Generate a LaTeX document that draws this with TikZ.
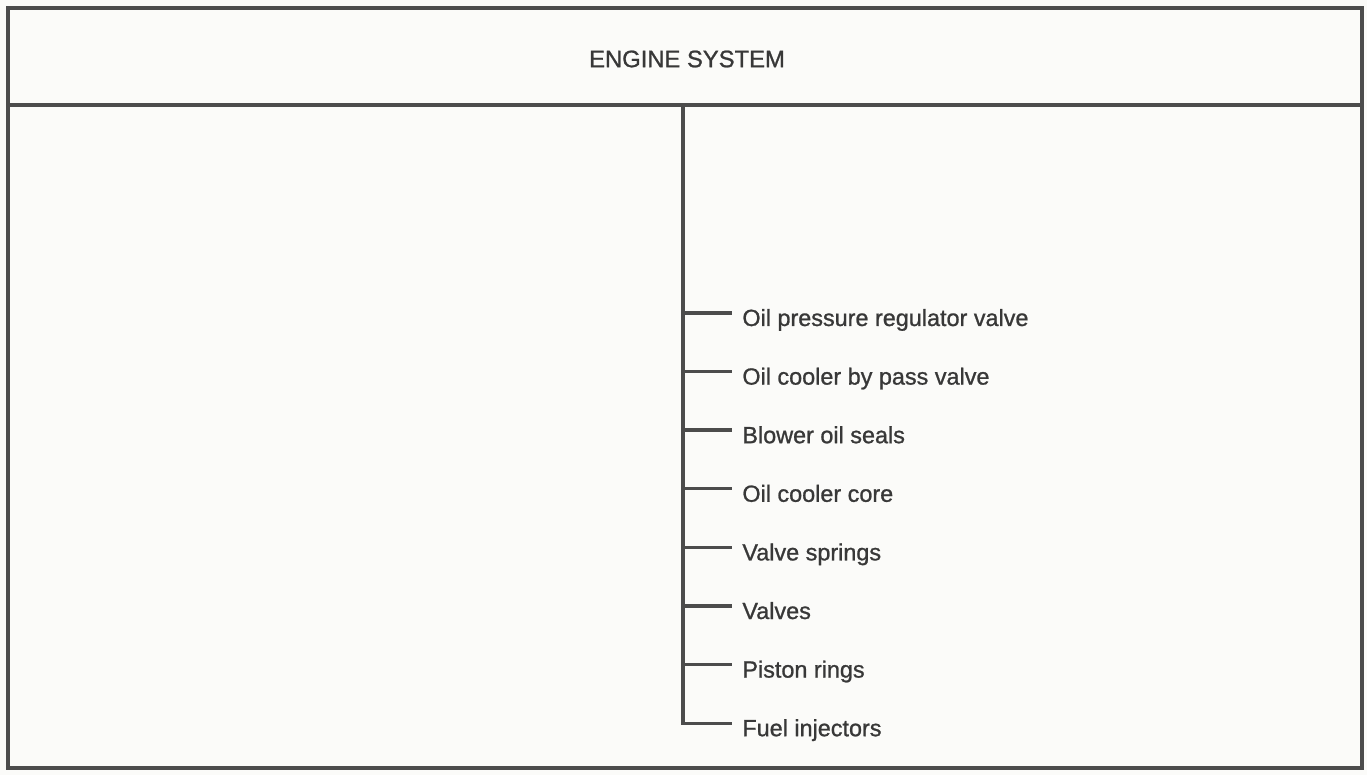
\documentclass[tikz,border=0pt]{standalone}
\usepackage{fontspec}
\setmainfont{Liberation Sans}
\newfontfamily\plate[FakeBold=1]{Liberation Sans}
\definecolor{paper}{HTML}{FBFBF9}
\definecolor{ink}{HTML}{4C4C4C}
\definecolor{lettering}{HTML}{383838}
\tikzset{
  frame/.style={draw=ink, line width=1.6pt},
  link/.style={draw=ink, line width=1.7pt},
  title/.style={text=lettering, font=\plate\fontsize{11.9}{14}\selectfont},
  item/.style={anchor=base west, inner sep=5pt, text=lettering, font=\plate\fontsize{11.7}{14}\selectfont}
}
\begin{document}
\begin{tikzpicture}[x=0.5pt, y=-0.5pt]
\fill[paper] (0,0) rectangle (1367,775);
\useasboundingbox (0,0) rectangle (1367,775);
% outer box and header band
\draw[frame] (8,8) rectangle (1362,768);
\draw[frame] (8,105) -- (1362,105);
\node[title] (title) at (687,59) {ENGINE SYSTEM};
\coordinate (root) at (683,105);
% branches
\foreach \txt [count=\i] in {Oil pressure regulator valve, Oil cooler by pass valve,
    Blower oil seals, Oil cooler core, Valve springs, Valves, Piston rings, Fuel injectors}{
  \coordinate (tip\i) at (732, 313+58.6*\i-58.6);
  \node[item] (item\i) at ([yshift=-6.5pt]tip\i) {\txt};
}
\foreach \i in {1,...,7}
  \draw[link] (root |- tip\i) -- (tip\i);
\draw[link] (root) |- (tip8);
\end{tikzpicture}
\end{document}
